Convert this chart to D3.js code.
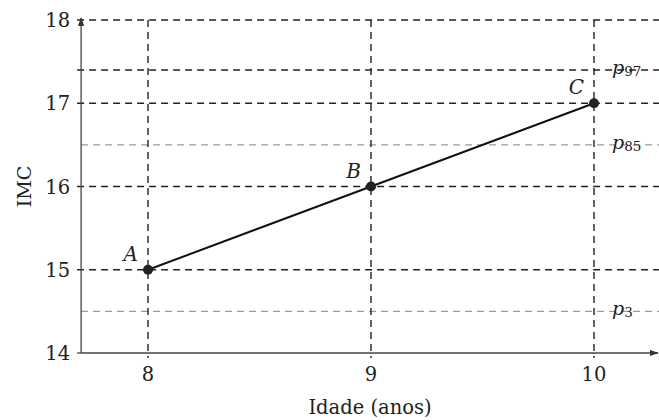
<!DOCTYPE html>
<html>
<head>
<meta charset="utf-8">
<script src="https://cdn.jsdelivr.net/npm/d3@7"></script>
<style>
  body { margin: 0; background: #fff; }
  text { font-family: "DejaVu Serif", "Liberation Serif", serif; fill: #222; }
</style>
</head>
<body>
<div id="chart"></div>
<script>
// data
var ages = [8, 9, 10];
var imc = [15, 16, 17];
var pointLabels = ["A", "B", "C"];
var yTicks = [14, 15, 16, 17, 18];
var gridMajor = [15, 16, 17, 17.4, 18];
var percentiles = [17.4, 16.5, 14.5];
var percentileNames = ["97", "85", "3"];
var lightLines = [16.5, 14.5];

var W = 659, H = 420;
var svg = d3.select("#chart").append("svg")
    .attr("width", W).attr("height", H);

var x = d3.scaleLinear().domain([8, 10]).range([148, 594]);
var y = d3.scaleLinear().domain([14, 18]).range([353, 20]);
var x0 = x(7.7), xEnd = 658;

// arrow marker
svg.append("defs").append("marker")
    .attr("id", "arr")
    .attr("viewBox", "0 0 10 10")
    .attr("refX", 9).attr("refY", 5)
    .attr("markerWidth", 7).attr("markerHeight", 7)
    .attr("orient", "auto")
    .append("path").attr("d", "M0,1.5 L10,5 L0,8.5 Z").attr("fill", "#333");

// light dashed lines (p85, p3)
svg.selectAll(".light").data(lightLines).enter().append("line")
    .attr("x1", x0).attr("x2", W)
    .attr("y1", d => y(d)).attr("y2", d => y(d))
    .attr("stroke", "#9a9a9a").attr("stroke-width", 1.3)
    .attr("stroke-dasharray", "7,5");

// major dashed horizontals
svg.selectAll(".major").data(gridMajor).enter().append("line")
    .attr("x1", x0 - 4).attr("x2", W)
    .attr("y1", d => y(d)).attr("y2", d => y(d))
    .attr("stroke", "#222").attr("stroke-width", 1.4)
    .attr("stroke-dasharray", "7,5");

// vertical dashed lines
svg.selectAll(".vert").data(ages).enter().append("line")
    .attr("x1", d => x(d)).attr("x2", d => x(d))
    .attr("y1", y(18)).attr("y2", y(14) + 5)
    .attr("stroke", "#222").attr("stroke-width", 1.4)
    .attr("stroke-dasharray", "7,5");

// axes
svg.append("line")
    .attr("x1", x0).attr("x2", xEnd)
    .attr("y1", y(14)).attr("y2", y(14))
    .attr("stroke", "#444").attr("stroke-width", 1.3)
    .attr("marker-end", "url(#arr)");
svg.append("line")
    .attr("x1", x0).attr("x2", x0)
    .attr("y1", y(14)).attr("y2", y(18) - 2)
    .attr("stroke", "#444").attr("stroke-width", 1.3)
    .attr("marker-end", "url(#arr)");
svg.append("line")
    .attr("x1", x0 - 4).attr("x2", x0)
    .attr("y1", y(14)).attr("y2", y(14))
    .attr("stroke", "#444").attr("stroke-width", 1.3);

// tick labels
svg.selectAll(".yt").data(yTicks).enter().append("text")
    .attr("x", x0 - 11).attr("y", d => y(d) + 7)
    .attr("text-anchor", "end")
    .attr("font-size", 19.5)
    .text(d => d);
svg.selectAll(".xt").data(ages).enter().append("text")
    .attr("x", d => x(d)).attr("y", y(14) + 28)
    .attr("text-anchor", "middle")
    .attr("font-size", 19.5)
    .text(d => d);

// percentile labels
var pl = svg.selectAll(".pl").data(percentiles).enter().append("text")
    .attr("x", 612).attr("y", d => y(d) + 4)
    .attr("font-size", 19);
pl.append("tspan").attr("font-style", "italic").text("p");
pl.append("tspan").attr("font-size", 13.5).attr("dy", 2)
    .text((d, i) => percentileNames[i]);

// axis titles
svg.append("text")
    .attr("x", 370).attr("y", 414)
    .attr("text-anchor", "middle")
    .attr("font-size", 19.5)
    .text("Idade (anos)");
svg.append("text")
    .attr("transform", "translate(31," + y(16) + ")rotate(-90)")
    .attr("text-anchor", "middle")
    .attr("font-size", 19)
    .text("IMC");

// series line and points
var pts = ages.map((a, i) => ({ x: a, y: imc[i], label: pointLabels[i] }));
svg.append("path")
    .datum(pts)
    .attr("d", d3.line().x(d => x(d.x)).y(d => y(d.y)))
    .attr("fill", "none")
    .attr("stroke", "#111")
    .attr("stroke-width", 2);
svg.selectAll(".pt").data(pts).enter().append("circle")
    .attr("cx", d => x(d.x)).attr("cy", d => y(d.y))
    .attr("r", 5).attr("fill", "#222");
svg.selectAll(".ptl").data(pts).enter().append("text")
    .attr("x", d => x(d.x) - 10).attr("y", d => y(d.y) - 9)
    .attr("text-anchor", "end")
    .attr("font-style", "italic")
    .attr("font-size", 20)
    .text(d => d.label);
</script>
</body>
</html>
